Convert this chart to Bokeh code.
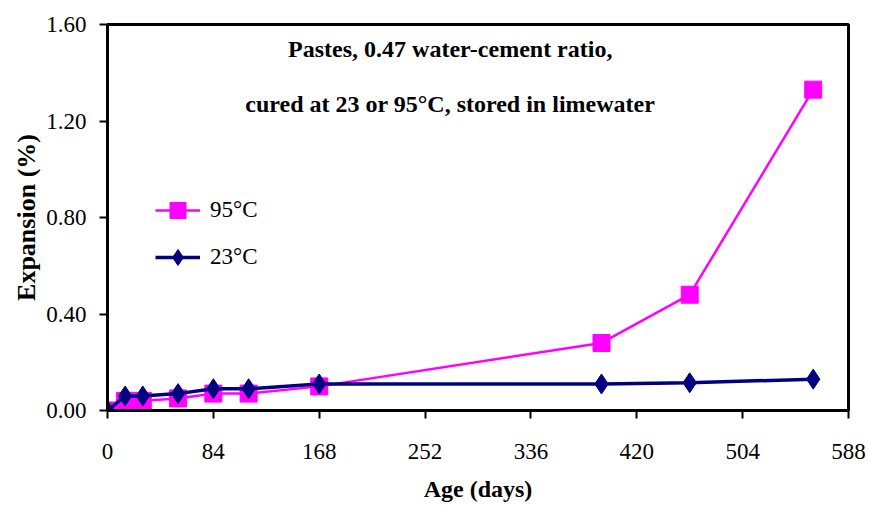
from bokeh.plotting import figure
from bokeh.models import Legend, LegendItem, Label, FixedTicker, PrintfTickFormatter, Range1d
from bokeh.embed import file_html
from bokeh.resources import INLINE

age_days = [0, 14, 28, 56, 84, 112, 168, 392, 462, 560]
exp_95c = [0.00, 0.04, 0.04, 0.05, 0.07, 0.07, 0.10, 0.28, 0.48, 1.33]
exp_23c = [0.00, 0.06, 0.06, 0.07, 0.09, 0.09, 0.11, 0.11, 0.115, 0.13]
x_ticks = [0, 84, 168, 252, 336, 420, 504, 588]
y_ticks = [0.0, 0.4, 0.8, 1.2, 1.6]
series_labels = ["95°C", "23°C"]
title_lines = ["Pastes, 0.47 water-cement ratio,", "cured at 23 or 95°C, stored in limewater"]

FONT = "Liberation Serif"

p = figure(width=869, height=507, output_backend="svg", toolbar_location=None,
           x_range=Range1d(0, 588), y_range=Range1d(0, 1.6),
           min_border_left=107, min_border_right=21, min_border_top=24, min_border_bottom=97)

p.xgrid.visible = False
p.ygrid.visible = False
p.background_fill_color = "white"
p.border_fill_color = "white"
p.outline_line_color = "black"
p.outline_line_width = 3
p.outline_line_alpha = 1

l95 = p.line(age_days, exp_95c, line_color="#FF00FF", line_width=2.5)
s95 = p.scatter(age_days, exp_95c, marker="square", size=17, fill_color="#FF00FF", line_color="#FF00FF")
l23 = p.line(age_days, exp_23c, line_color="#000080", line_width=3.5)
s23 = p.scatter(age_days, exp_23c, marker="diamond", size=20, fill_color="#000080", line_color="#000080")

for ax in (p.xaxis[0], p.yaxis[0]):
    ax.axis_line_width = 3
    ax.axis_line_color = "black"
    ax.major_tick_line_width = 2
    ax.major_tick_line_color = "black"
    ax.major_tick_in = 0
    ax.major_tick_out = 8
    ax.minor_tick_line_color = None
    ax.major_label_text_font = FONT
    ax.major_label_text_font_size = "23px"
    ax.major_label_text_color = "black"
    ax.axis_label_text_font = FONT
    ax.axis_label_text_font_style = "bold"
    ax.axis_label_text_color = "black"

p.xaxis[0].axis_label_text_font_size = "24px"
p.yaxis[0].axis_label_text_font_size = "26px"
p.xaxis[0].ticker = FixedTicker(ticks=x_ticks)
p.yaxis[0].ticker = FixedTicker(ticks=y_ticks)
p.yaxis[0].formatter = PrintfTickFormatter(format="%.2f")
p.xaxis[0].axis_label = "Age (days)"
p.yaxis[0].axis_label = "Expansion (%)"
p.xaxis[0].major_label_standoff = 25
p.xaxis[0].axis_label_standoff = 14
p.yaxis[0].major_label_standoff = 13
p.yaxis[0].axis_label_standoff = 2

legend = Legend(items=[LegendItem(label=series_labels[0], renderers=[l95, s95]),
                       LegendItem(label=series_labels[1], renderers=[l23, s23])],
                location=(48, 133))
legend.border_line_color = None
legend.background_fill_alpha = 0
legend.label_text_font = FONT
legend.label_text_font_size = "23px"
legend.label_text_color = "black"
legend.glyph_width = 45
legend.glyph_height = 40
legend.label_height = 40
legend.spacing = 7
legend.padding = 0
legend.margin = 0
legend.label_standoff = 10
p.add_layout(legend, "center")

for i, t in enumerate(title_lines):
    p.add_layout(Label(x=272, y=[1.50, 1.27][i], text=t, text_align="center", text_baseline="middle",
                       text_font=FONT, text_font_size="24px", text_font_style="bold", text_color="black"))

open("out.html", "w").write(file_html(p, INLINE))
